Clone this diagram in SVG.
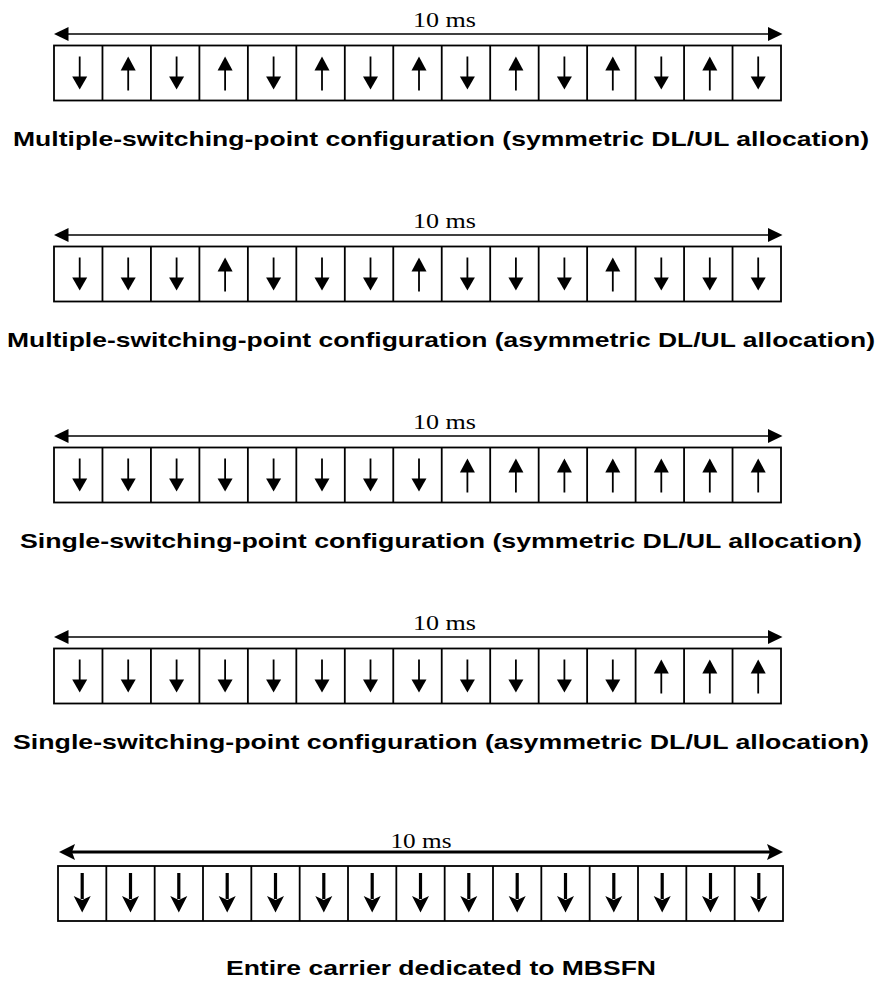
<svg xmlns="http://www.w3.org/2000/svg" xmlns:xlink="http://www.w3.org/1999/xlink" width="882" height="981" viewBox="0 0 882 981">
<style>
.box{fill:#fff;stroke:#000;stroke-width:1.8}
.sep{fill:none;stroke:#000;stroke-width:1.8}
.span{stroke:#000;stroke-width:1.6}
.spanb{stroke:#000;stroke-width:3.2}
.hd{fill:#000}
.ms{font-family:"Liberation Serif","Times New Roman",serif;font-size:21px;text-anchor:middle;fill:#000}
.cap{font-family:"Liberation Sans",Arial,sans-serif;font-size:20.5px;font-weight:bold;text-anchor:middle;fill:#000}
</style>
<defs>
<g id="dn"><line x1="0" y1="11" x2="0" y2="33" stroke="#000" stroke-width="1.8"/><polygon points="-7.5,31 7.5,31 0,44" fill="#000"/></g>
<g id="up"><line x1="0" y1="22" x2="0" y2="45" stroke="#000" stroke-width="1.8"/><polygon points="-7.5,25 7.5,25 0,11" fill="#000"/></g>
<g id="dnb"><line x1="0" y1="7" x2="0" y2="33" stroke="#000" stroke-width="3.2"/><polygon points="-8.5,30 0,34 8.5,30 0,46.5" fill="#000"/></g>
</defs>

<g id="row1">
<g id="span1"><line class="span" x1="66" y1="34" x2="770" y2="34"/><polygon class="hd" points="54,34 68.5,27 68.5,41"/><polygon class="hd" points="782.5,34 768,27 768,41"/></g>
<text class="ms" x="444.5" y="27" textLength="63" lengthAdjust="spacingAndGlyphs">10 ms</text>
<rect class="box" x="54" y="45.5" width="727" height="55"/>
<path class="sep" d="M102.47 45.5V100.5M150.93 45.5V100.5M199.4 45.5V100.5M247.87 45.5V100.5M296.33 45.5V100.5M344.8 45.5V100.5M393.27 45.5V100.5M441.73 45.5V100.5M490.2 45.5V100.5M538.67 45.5V100.5M587.13 45.5V100.5M635.6 45.5V100.5M684.07 45.5V100.5M732.53 45.5V100.5"/>
<use xlink:href="#dn" x="79.7" y="45.5"/><use xlink:href="#up" x="128.2" y="45.5"/><use xlink:href="#dn" x="176.6" y="45.5"/><use xlink:href="#up" x="225.1" y="45.5"/><use xlink:href="#dn" x="273.6" y="45.5"/><use xlink:href="#up" x="322" y="45.5"/><use xlink:href="#dn" x="370.5" y="45.5"/><use xlink:href="#up" x="419" y="45.5"/><use xlink:href="#dn" x="467.4" y="45.5"/><use xlink:href="#up" x="515.9" y="45.5"/><use xlink:href="#dn" x="564.4" y="45.5"/><use xlink:href="#up" x="612.8" y="45.5"/><use xlink:href="#dn" x="661.3" y="45.5"/><use xlink:href="#up" x="709.8" y="45.5"/><use xlink:href="#dn" x="758.2" y="45.5"/>
<text class="cap" x="441" y="146" textLength="856" lengthAdjust="spacingAndGlyphs">Multiple-switching-point configuration (symmetric DL/UL allocation)</text>
</g>

<g id="row2" transform="translate(0,201)">
<g id="span2"><line class="span" x1="66" y1="34" x2="770" y2="34"/><polygon class="hd" points="54,34 68.5,27 68.5,41"/><polygon class="hd" points="782.5,34 768,27 768,41"/></g>
<text class="ms" x="444.5" y="27" textLength="63" lengthAdjust="spacingAndGlyphs">10 ms</text>
<rect class="box" x="54" y="45.5" width="727" height="55"/>
<path class="sep" d="M102.47 45.5V100.5M150.93 45.5V100.5M199.4 45.5V100.5M247.87 45.5V100.5M296.33 45.5V100.5M344.8 45.5V100.5M393.27 45.5V100.5M441.73 45.5V100.5M490.2 45.5V100.5M538.67 45.5V100.5M587.13 45.5V100.5M635.6 45.5V100.5M684.07 45.5V100.5M732.53 45.5V100.5"/>
<use xlink:href="#dn" x="79.7" y="45.5"/><use xlink:href="#dn" x="128.2" y="45.5"/><use xlink:href="#dn" x="176.6" y="45.5"/><use xlink:href="#up" x="225.1" y="45.5"/><use xlink:href="#dn" x="273.6" y="45.5"/><use xlink:href="#dn" x="322" y="45.5"/><use xlink:href="#dn" x="370.5" y="45.5"/><use xlink:href="#up" x="419" y="45.5"/><use xlink:href="#dn" x="467.4" y="45.5"/><use xlink:href="#dn" x="515.9" y="45.5"/><use xlink:href="#dn" x="564.4" y="45.5"/><use xlink:href="#up" x="612.8" y="45.5"/><use xlink:href="#dn" x="661.3" y="45.5"/><use xlink:href="#dn" x="709.8" y="45.5"/><use xlink:href="#dn" x="758.2" y="45.5"/>
<text class="cap" x="441" y="146" textLength="868" lengthAdjust="spacingAndGlyphs">Multiple-switching-point configuration (asymmetric DL/UL allocation)</text>
</g>

<g id="row3" transform="translate(0,402)">
<g id="span3"><line class="span" x1="66" y1="34" x2="770" y2="34"/><polygon class="hd" points="54,34 68.5,27 68.5,41"/><polygon class="hd" points="782.5,34 768,27 768,41"/></g>
<text class="ms" x="444.5" y="27" textLength="63" lengthAdjust="spacingAndGlyphs">10 ms</text>
<rect class="box" x="54" y="45.5" width="727" height="55"/>
<path class="sep" d="M102.47 45.5V100.5M150.93 45.5V100.5M199.4 45.5V100.5M247.87 45.5V100.5M296.33 45.5V100.5M344.8 45.5V100.5M393.27 45.5V100.5M441.73 45.5V100.5M490.2 45.5V100.5M538.67 45.5V100.5M587.13 45.5V100.5M635.6 45.5V100.5M684.07 45.5V100.5M732.53 45.5V100.5"/>
<use xlink:href="#dn" x="79.7" y="45.5"/><use xlink:href="#dn" x="128.2" y="45.5"/><use xlink:href="#dn" x="176.6" y="45.5"/><use xlink:href="#dn" x="225.1" y="45.5"/><use xlink:href="#dn" x="273.6" y="45.5"/><use xlink:href="#dn" x="322" y="45.5"/><use xlink:href="#dn" x="370.5" y="45.5"/><use xlink:href="#dn" x="419" y="45.5"/><use xlink:href="#up" x="467.4" y="45.5"/><use xlink:href="#up" x="515.9" y="45.5"/><use xlink:href="#up" x="564.4" y="45.5"/><use xlink:href="#up" x="612.8" y="45.5"/><use xlink:href="#up" x="661.3" y="45.5"/><use xlink:href="#up" x="709.8" y="45.5"/><use xlink:href="#up" x="758.2" y="45.5"/>
<text class="cap" x="441" y="146" textLength="842" lengthAdjust="spacingAndGlyphs">Single-switching-point configuration (symmetric DL/UL allocation)</text>
</g>

<g id="row4" transform="translate(0,603)">
<g id="span4"><line class="span" x1="66" y1="34" x2="770" y2="34"/><polygon class="hd" points="54,34 68.5,27 68.5,41"/><polygon class="hd" points="782.5,34 768,27 768,41"/></g>
<text class="ms" x="444.5" y="27" textLength="63" lengthAdjust="spacingAndGlyphs">10 ms</text>
<rect class="box" x="54" y="45.5" width="727" height="55"/>
<path class="sep" d="M102.47 45.5V100.5M150.93 45.5V100.5M199.4 45.5V100.5M247.87 45.5V100.5M296.33 45.5V100.5M344.8 45.5V100.5M393.27 45.5V100.5M441.73 45.5V100.5M490.2 45.5V100.5M538.67 45.5V100.5M587.13 45.5V100.5M635.6 45.5V100.5M684.07 45.5V100.5M732.53 45.5V100.5"/>
<use xlink:href="#dn" x="79.7" y="45.5"/><use xlink:href="#dn" x="128.2" y="45.5"/><use xlink:href="#dn" x="176.6" y="45.5"/><use xlink:href="#dn" x="225.1" y="45.5"/><use xlink:href="#dn" x="273.6" y="45.5"/><use xlink:href="#dn" x="322" y="45.5"/><use xlink:href="#dn" x="370.5" y="45.5"/><use xlink:href="#dn" x="419" y="45.5"/><use xlink:href="#dn" x="467.4" y="45.5"/><use xlink:href="#dn" x="515.9" y="45.5"/><use xlink:href="#dn" x="564.4" y="45.5"/><use xlink:href="#dn" x="612.8" y="45.5"/><use xlink:href="#up" x="661.3" y="45.5"/><use xlink:href="#up" x="709.8" y="45.5"/><use xlink:href="#up" x="758.2" y="45.5"/>
<text class="cap" x="441" y="146" textLength="856" lengthAdjust="spacingAndGlyphs">Single-switching-point configuration (asymmetric DL/UL allocation)</text>
</g>

<g id="row5">
<g id="span5"><line class="spanb" x1="72" y1="852" x2="770" y2="852"/><polygon class="hd" points="59,852 75,844 72,852 75,860"/><polygon class="hd" points="783,852 767,844 770,852 767,860"/></g>
<text class="ms" x="421" y="848" textLength="61" lengthAdjust="spacingAndGlyphs">10 ms</text>
<rect class="box" x="58" y="866" width="725" height="55"/>
<path class="sep" d="M106.33 866V921M154.67 866V921M203 866V921M251.33 866V921M299.67 866V921M348 866V921M396.33 866V921M444.67 866V921M493 866V921M541.33 866V921M589.67 866V921M638 866V921M686.33 866V921M734.67 866V921"/>
<use xlink:href="#dnb" x="82.2" y="866"/><use xlink:href="#dnb" x="130.5" y="866"/><use xlink:href="#dnb" x="178.8" y="866"/><use xlink:href="#dnb" x="227.2" y="866"/><use xlink:href="#dnb" x="275.5" y="866"/><use xlink:href="#dnb" x="323.8" y="866"/><use xlink:href="#dnb" x="372.2" y="866"/><use xlink:href="#dnb" x="420.5" y="866"/><use xlink:href="#dnb" x="468.8" y="866"/><use xlink:href="#dnb" x="517.2" y="866"/><use xlink:href="#dnb" x="565.5" y="866"/><use xlink:href="#dnb" x="613.8" y="866"/><use xlink:href="#dnb" x="662.2" y="866"/><use xlink:href="#dnb" x="710.5" y="866"/><use xlink:href="#dnb" x="758.8" y="866"/>
<text class="cap" x="441" y="975" textLength="430" lengthAdjust="spacingAndGlyphs">Entire carrier dedicated to MBSFN</text>
</g>
</svg>
